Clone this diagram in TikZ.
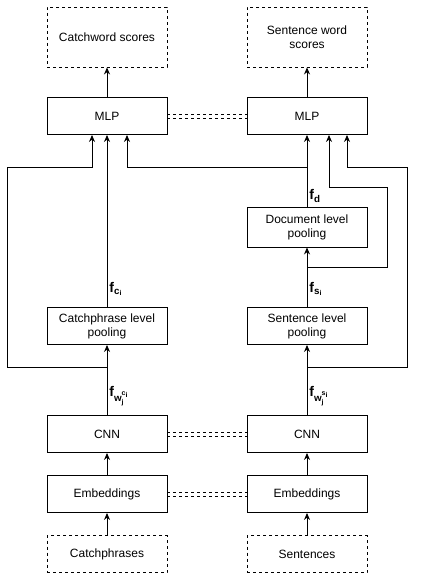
\documentclass[tikz,border=0pt]{standalone}
\usepackage{fontspec}
\setmainfont{Liberation Sans}
\usetikzlibrary{arrows.meta}

\begin{document}
\begin{tikzpicture}[x=1pt, y=-1pt, line width=0.9pt,
    font=\fontsize{12pt}{14pt}\selectfont,
    box/.style={draw, minimum width=120pt, minimum height=37pt, inner sep=0pt, align=center},
    dbox/.style={box, dashed},
    arr/.style={-{Stealth[length=7pt, width=6pt]}},
    lbl/.style={anchor=west, inner sep=2pt, font=\fontsize{14pt}{16pt}\selectfont}]
    % keep the page the size of the reference
    \useasboundingbox (0,0) rectangle (428,575);

    % catchphrase column
    \node[dbox, minimum height=60pt] (outC) at (107,37) {Catchword scores};
    \node[box] (mlpC) at (107,116) {MLP};
    \node[box] (poolC) at (107,326) {Catchphrase level\\pooling};
    \node[box] (cnnC) at (107,434) {CNN};
    \node[box] (embC) at (107,494) {Embeddings};
    \node[dbox] (inC) at (107,554) {Catchphrases};
    % sentence column
    \node[dbox, minimum height=60pt] (outS) at (307,37) {Sentence word\\scores};
    \node[box] (mlpS) at (307,116) {MLP};
    \node[box, minimum height=40pt] (poolD) at (307,227) {Document level\\pooling};
    \node[box] (poolS) at (307,326) {Sentence level\\pooling};
    \node[box] (cnnS) at (307,434) {CNN};
    \node[box] (embS) at (307,494) {Embeddings};
    \node[dbox] (inS) at (307,554) {Sentences};

    % shared weights
    \foreach \a/\b in {mlpC/mlpS, cnnC/cnnS, embC/embS} {
        \draw[dashed] ([yshift=2pt]\a.east) -- ([yshift=2pt]\b.west);
        \draw[dashed] ([yshift=-2pt]\a.east) -- ([yshift=-2pt]\b.west);
    }

    % main flow
    \draw[arr] (inC) -- (embC);
    \draw[arr] (embC) -- (cnnC);
    \draw[arr] (cnnC) -- (poolC);
    \draw[arr] (poolC) -- (mlpC);
    \draw[arr] (mlpC) -- (outC);
    \draw[arr] (inS) -- (embS);
    \draw[arr] (embS) -- (cnnS);
    \draw[arr] (cnnS) -- (poolS);
    \draw[arr] (poolS) -- (poolD);
    \draw[arr] (poolD) -- (mlpS);
    \draw[arr] (mlpS) -- (outS);

    % feature labels
    \node[lbl] (fwC) at (107,396) {$\mathbf{f}_{\mathbf{w_j^{c_i}}}$};
    \node[lbl] (fC) at (107,289) {$\mathbf{f}_{\mathbf{c_i}}$};
    \node[lbl] (fwS) at (307,396) {$\mathbf{f}_{\mathbf{w_j^{s_i}}}$};
    \node[lbl] (fS) at (307,289) {$\mathbf{f}_{\mathbf{s_i}}$};
    \node[lbl] (fD) at (307,196) {$\mathbf{f}_{\mathbf{d}}$};

    % skip connections
    \coordinate (wC) at (107,367);
    \draw[arr] (wC) -| (7,167) -| ([xshift=-15pt]mlpC.south);
    \coordinate (dC) at (307,167);
    \draw[arr] (dC) -| ([xshift=20pt]mlpC.south);
    \coordinate (sS) at (307,267);
    \draw[arr] (sS) -| (387,187) -| ([xshift=22pt]mlpS.south);
    \coordinate (wS) at (307,367);
    \draw[arr] (wS) -| (407,167) -| ([xshift=40pt]mlpS.south);
\end{tikzpicture}
\end{document}
